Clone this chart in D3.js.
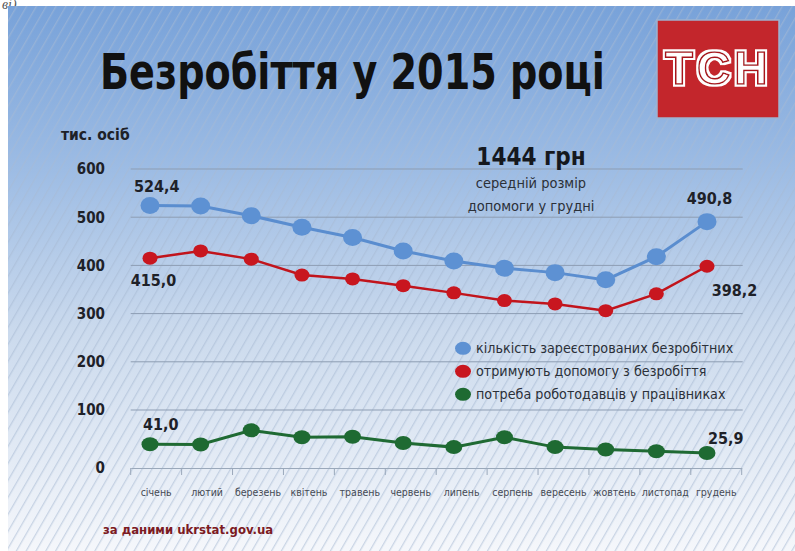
<!DOCTYPE html>
<html>
<head>
<meta charset="utf-8">
<script src="https://cdn.jsdelivr.net/npm/d3@7"></script>
<style>
    body { margin: 0; background: #fff; }
    svg { display: block; }
    text { font-family: "DejaVu Sans Condensed", "Liberation Sans Narrow", sans-serif; }
</style>
</head>
<body>
<div id="chart"></div>
<script>

// data (тис. осіб)
let months = ["січень", "лютий", "березень", "квітень", "травень", "червень",
    "липень", "серпень", "вересень", "жовтень", "листопад", "грудень"];
let registered = [524.4, 523, 503, 479, 458, 430, 409, 394, 385, 370, 418, 490.8];
let receiving = [415.0, 430, 413, 380, 372, 358, 343, 327, 320, 306, 341, 398.2];
let vacancies = [41.0, 40.5, 65, 53, 54, 43, 36, 53, 36, 32, 29, 25.9];
let yTicks = [0, 100, 200, 300, 400, 500, 600];
let seriesNames = ["кількість зареєстрованих безробітних",
    "отримують допомогу з безробіття",
    "потреба роботодавців у працівниках"];

let width = 795, height = 551;

let svg = d3.select("#chart").append("svg")
    .attr("width", width)
    .attr("height", height);

let defs = svg.append("defs");

// background gradient
let grad = defs.append("linearGradient")
    .attr("id", "bg")
    .attr("x1", 0).attr("y1", 0).attr("x2", 0).attr("y2", 1);
grad.append("stop").attr("offset", "0%").attr("stop-color", "#78a2d9");
grad.append("stop").attr("offset", "30%").attr("stop-color", "#9dbce4");
grad.append("stop").attr("offset", "60%").attr("stop-color", "#cbdaed");
grad.append("stop").attr("offset", "100%").attr("stop-color", "#f5f7fb");

// diagonal stripes
let pat = defs.append("pattern")
    .attr("id", "stripes")
    .attr("patternUnits", "userSpaceOnUse")
    .attr("width", 8.5)
    .attr("height", 8.5)
    .attr("patternTransform", "rotate(30)");
pat.append("rect")
    .attr("x", 0).attr("y", 0)
    .attr("width", 1.3).attr("height", 8.5)
    .attr("fill", "#a8bad2")
    .attr("opacity", 0.55);

// white outline for the logo letters
let outline = defs.append("filter")
    .attr("id", "outline")
    .attr("x", "-10%").attr("y", "-20%")
    .attr("width", "120%").attr("height", "140%");
outline.append("feMorphology")
    .attr("in", "SourceAlpha")
    .attr("operator", "dilate")
    .attr("radius", 2.4)
    .attr("result", "thick");
outline.append("feFlood").attr("flood-color", "#ffffff");
outline.append("feComposite")
    .attr("in2", "thick")
    .attr("operator", "in")
    .attr("result", "white");
let merge = outline.append("feMerge");
merge.append("feMergeNode").attr("in", "white");
merge.append("feMergeNode").attr("in", "SourceGraphic");

// cut off text above the picture
svg.append("text")
    .attr("x", 2).attr("y", 9)
    .style("font-family", "'Liberation Serif', serif")
    .style("font-style", "italic")
    .style("font-size", "14px")
    .attr("fill", "#555")
    .text("ві).");

svg.append("rect")
    .attr("x", 8).attr("y", 6)
    .attr("width", width - 8).attr("height", height - 6)
    .attr("fill", "url(#bg)");
svg.append("rect")
    .attr("x", 8).attr("y", 6)
    .attr("width", width - 8).attr("height", height - 6)
    .attr("fill", "url(#stripes)");

// title, squeezed to the width it has in the picture
let title = svg.append("text")
    .style("font-family", "'Liberation Sans Narrow', 'DejaVu Sans Condensed', sans-serif")
    .style("font-weight", "bold")
    .style("font-size", "50px")
    .attr("fill", "#111")
    .text("Безробіття у 2015 році");
let titleW = title.node().getComputedTextLength();
title.attr("transform", "translate(100,89) scale(" + (505 / titleW) + ",1)");

// logo
let logo = svg.append("g");
logo.append("rect")
    .attr("x", 657).attr("y", 20)
    .attr("width", 122).attr("height", 98)
    .attr("fill", "#c3262c")
    .attr("stroke", "#9fb3cf")
    .attr("stroke-width", 1.5);
logo.append("text")
    .attr("x", 665).attr("y", 84)
    .attr("filter", "url(#outline)")
    .style("font-family", "'Liberation Sans', sans-serif")
    .style("font-weight", "bold")
    .style("font-size", "46px")
    .style("letter-spacing", "4px")
    .attr("fill", "#fff")
    .attr("stroke", "#a8181e")
    .attr("stroke-width", 1.5)
    .text("ТСН");

// scales
let x = d3.scalePoint()
    .domain(months)
    .range([150, 707]);

let xBand = d3.scaleBand()
    .domain(months)
    .range([130.7, 741.7]);

// the infographic stretches the bottom 100 a bit
let y = d3.scaleLinear()
    .domain([0, 100, 600])
    .range([468, 410, 169]);

// gridlines
svg.append("g")
    .selectAll("line")
    .data(yTicks.filter(d => d > 0))
    .enter()
    .append("line")
    .attr("x1", 130.7).attr("x2", 742.7)
    .attr("y1", d => y(d)).attr("y2", d => y(d))
    .attr("stroke", "#8d9db3")
    .attr("stroke-width", 1);

// x axis line + ticks
let xAxis = svg.append("g")
    .attr("transform", "translate(0," + y(0) + ")")
    .call(d3.axisBottom(xBand).tickSize(0).tickFormat(""));
xAxis.select(".domain")
    .attr("stroke", "#9aa8ba")
    .attr("stroke-width", 1);
let tickPos = months.map(m => xBand(m)).concat([xBand.range()[1]]);
xAxis.selectAll(".vtick")
    .data(tickPos)
    .enter()
    .append("line")
    .attr("class", "vtick")
    .attr("x1", d => d).attr("x2", d => d)
    .attr("y1", 0).attr("y2", 7)
    .attr("stroke", "#9aa8ba");

// month labels
svg.append("g")
    .selectAll("text")
    .data(months)
    .enter()
    .append("text")
    .attr("x", d => xBand(d) + xBand.bandwidth() / 2)
    .attr("y", 496)
    .attr("text-anchor", "middle")
    .style("font-size", "10.5px")
    .attr("fill", "#454a54")
    .text(d => d);

// y labels
svg.append("g")
    .selectAll("text")
    .data(yTicks)
    .enter()
    .append("text")
    .attr("x", 105)
    .attr("y", d => y(d))
    .attr("dy", "0.36em")
    .attr("text-anchor", "end")
    .style("font-size", "15px")
    .style("font-weight", "bold")
    .attr("fill", "#1e2128")
    .text(d => d);

svg.append("text")
    .attr("x", 61).attr("y", 140)
    .style("font-size", "15.5px")
    .style("font-weight", "bold")
    .attr("fill", "#1e2128")
    .text("тис. осіб");

// series
let series = [
    {values: registered, line: "#5a8dcf", dot: "#5d91d3", rx: 9.5, ry: 8.5, width: 3},
    {values: receiving, line: "#c1141c", dot: "#c8161f", rx: 7.5, ry: 6.5, width: 2.5},
    {values: vacancies, line: "#1f6a33", dot: "#1e6a32", rx: 8.5, ry: 7, width: 3}
];

let line = d3.line()
    .x((d, i) => x(months[i]))
    .y(d => y(d));

series.forEach(s => {
    svg.append("path")
        .datum(s.values)
        .attr("d", line)
        .attr("fill", "none")
        .attr("stroke", s.line)
        .attr("stroke-width", s.width);

    svg.append("g")
        .selectAll("ellipse")
        .data(s.values)
        .enter()
        .append("ellipse")
        .attr("cx", (d, i) => x(months[i]))
        .attr("cy", d => y(d))
        .attr("rx", s.rx)
        .attr("ry", s.ry)
        .attr("fill", s.dot);
});

// value labels (first and last of each series)
let fmt = d => d3.format(".1f")(d).replace(".", ",");
let valueLabels = [
    {v: registered[0], x: 134, y: 191.7},
    {v: registered[11], x: 686.7, y: 204},
    {v: receiving[0], x: 130.7, y: 285.7},
    {v: receiving[11], x: 711.7, y: 296},
    {v: vacancies[0], x: 143, y: 430},
    {v: vacancies[11], x: 708, y: 444}
];
svg.append("g")
    .selectAll("text")
    .data(valueLabels)
    .enter()
    .append("text")
    .attr("x", d => d.x)
    .attr("y", d => d.y)
    .style("font-size", "16px")
    .style("font-weight", "bold")
    .attr("fill", "#1e2128")
    .text(d => fmt(d.v));

// annotation
svg.append("text")
    .attr("x", 531).attr("y", 165)
    .attr("text-anchor", "middle")
    .style("font-size", "24px")
    .style("font-weight", "bold")
    .attr("fill", "#15181e")
    .text("1444 грн");
svg.append("text")
    .attr("x", 531).attr("y", 188)
    .attr("text-anchor", "middle")
    .style("font-size", "14.5px")
    .attr("fill", "#2b3038")
    .text("середній розмір");
svg.append("text")
    .attr("x", 531).attr("y", 211)
    .attr("text-anchor", "middle")
    .style("font-size", "14.5px")
    .attr("fill", "#2b3038")
    .text("допомоги у грудні");

// legend
let legend = svg.append("g")
    .selectAll("g")
    .data(seriesNames)
    .enter()
    .append("g")
    .attr("transform", (d, i) => "translate(463," + (348.3 + i * 23) + ")");
legend.append("ellipse")
    .attr("rx", 8).attr("ry", 6.5)
    .attr("fill", (d, i) => series[i].dot);
legend.append("text")
    .attr("x", 13)
    .attr("dy", "0.35em")
    .style("font-size", "14.2px")
    .attr("fill", "#2b3038")
    .text(d => d);

// source
svg.append("text")
    .attr("x", 103).attr("y", 534)
    .style("font-size", "13px")
    .style("font-weight", "bold")
    .attr("fill", "#7c1a22")
    .text("за даними ukrstat.gov.ua");

</script>
</body>
</html>
